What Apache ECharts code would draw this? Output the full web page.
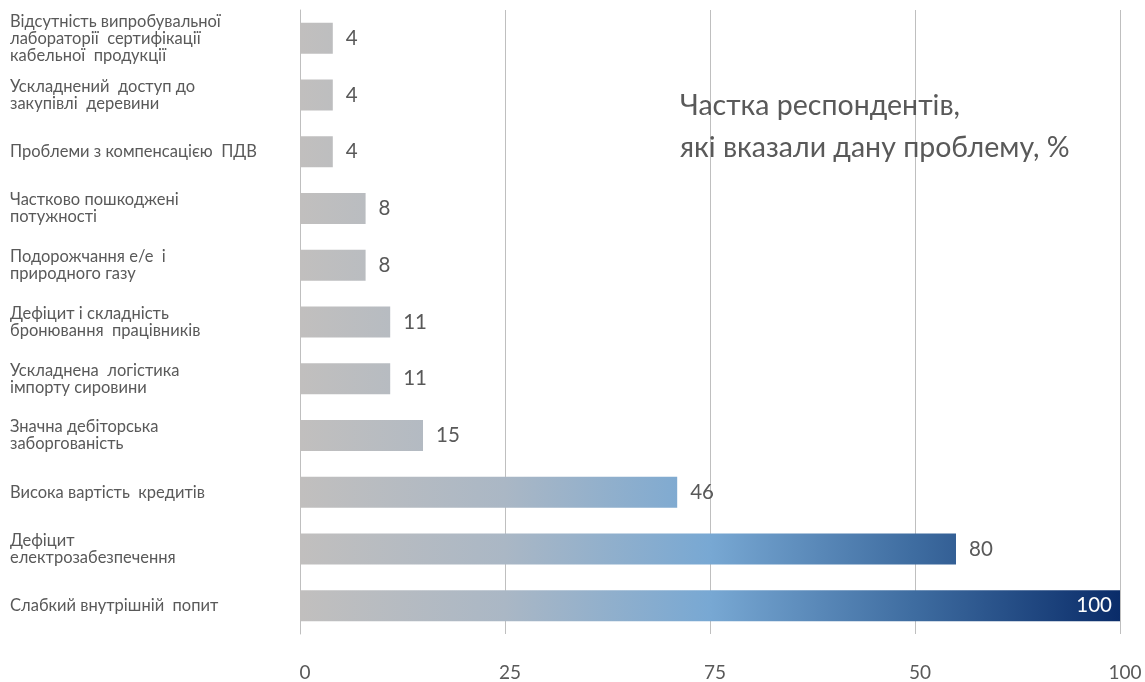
<!DOCTYPE html>
<html>
<head>
<meta charset="utf-8">
<script src="https://cdn.jsdelivr.net/npm/echarts@6/dist/echarts.min.js"></script>
<style>html,body{margin:0;padding:0;background:#fff;}#c{width:1145px;height:682px;}</style>
</head>
<body>
<div id="c"></div>
<script>
const categories = [
  'Відсутність випробувальної\nлабораторії  сертифікації\nкабельної  продукції',
  'Ускладнений  доступ до\nзакупівлі  деревини',
  'Проблеми з компенсацією  ПДВ',
  'Частково пошкоджені\nпотужності',
  'Подорожчання е/е  і\nприродного газу',
  'Дефіцит і складність\nбронювання  працівників',
  'Ускладнена  логістика\nімпорту сировини',
  'Значна дебіторська\nзаборгованість',
  'Висока вартість  кредитів',
  'Дефіцит\nелектрозабезпечення',
  'Слабкий внутрішній  попит'
];
const values = [4, 4, 4, 8, 8, 11, 11, 15, 46, 80, 100];
const xTickLabels = ['0', '25', '75', '50', '100'];
const titleText = 'Частка респондентів,\nякі вказали дану проблему, %';

const chart = echarts.init(document.getElementById('c'));
const grad = {
  type: 'linear', x: 300, y: 0, x2: 1120, y2: 0, global: true,
  colorStops: [
    {offset: 0, color: '#c1bfbe'},
    {offset: 0.25, color: '#aab7c5'},
    {offset: 0.5, color: '#78a8d3'},
    {offset: 0.75, color: '#3e6ca0'},
    {offset: 1, color: '#0a2c69'}
  ]
};
chart.setOption({
  animation: false,
  title: {
    text: titleText, left: 675, top: 80,
    textStyle: {fontFamily: 'Lato', fontWeight: 'normal', fontSize: 28.5, color: '#595959', lineHeight: 42}
  },
  grid: {left: 300, right: 25, top: 10, bottom: 48},
  xAxis: {
    type: 'value', min: 0, max: 100, interval: 25,
    axisLine: {show: false}, axisTick: {show: false},
    splitLine: {lineStyle: {color: '#bfbfbf', width: 1}},
    axisLabel: {
      margin: 29, fontFamily: 'Lato', fontSize: 19, color: '#595959',
      padding: [0, 0, 0, 10],
      formatter: v => xTickLabels[Math.round(v / 25)]
    }
  },
  yAxis: {
    type: 'category', data: categories, inverse: true,
    axisLine: {show: true, lineStyle: {color: '#bfbfbf'}},
    axisTick: {show: false},
    axisLabel: {
      align: 'left', margin: 290, fontFamily: 'Lato', fontSize: 16.5,
      color: '#595959', lineHeight: 17
    }
  },
  series: [{
    type: 'bar', barWidth: 31,
    data: values.map((v, i) => i === values.length - 1
      ? {value: v, label: {position: 'insideRight', color: '#ffffff', distance: 8}}
      : v),
    itemStyle: {color: grad},
    label: {
      show: true, position: 'right', distance: 13,
      fontFamily: 'Lato', fontSize: 20.5, color: '#595959'
    }
  }]
});
</script>
</body>
</html>
